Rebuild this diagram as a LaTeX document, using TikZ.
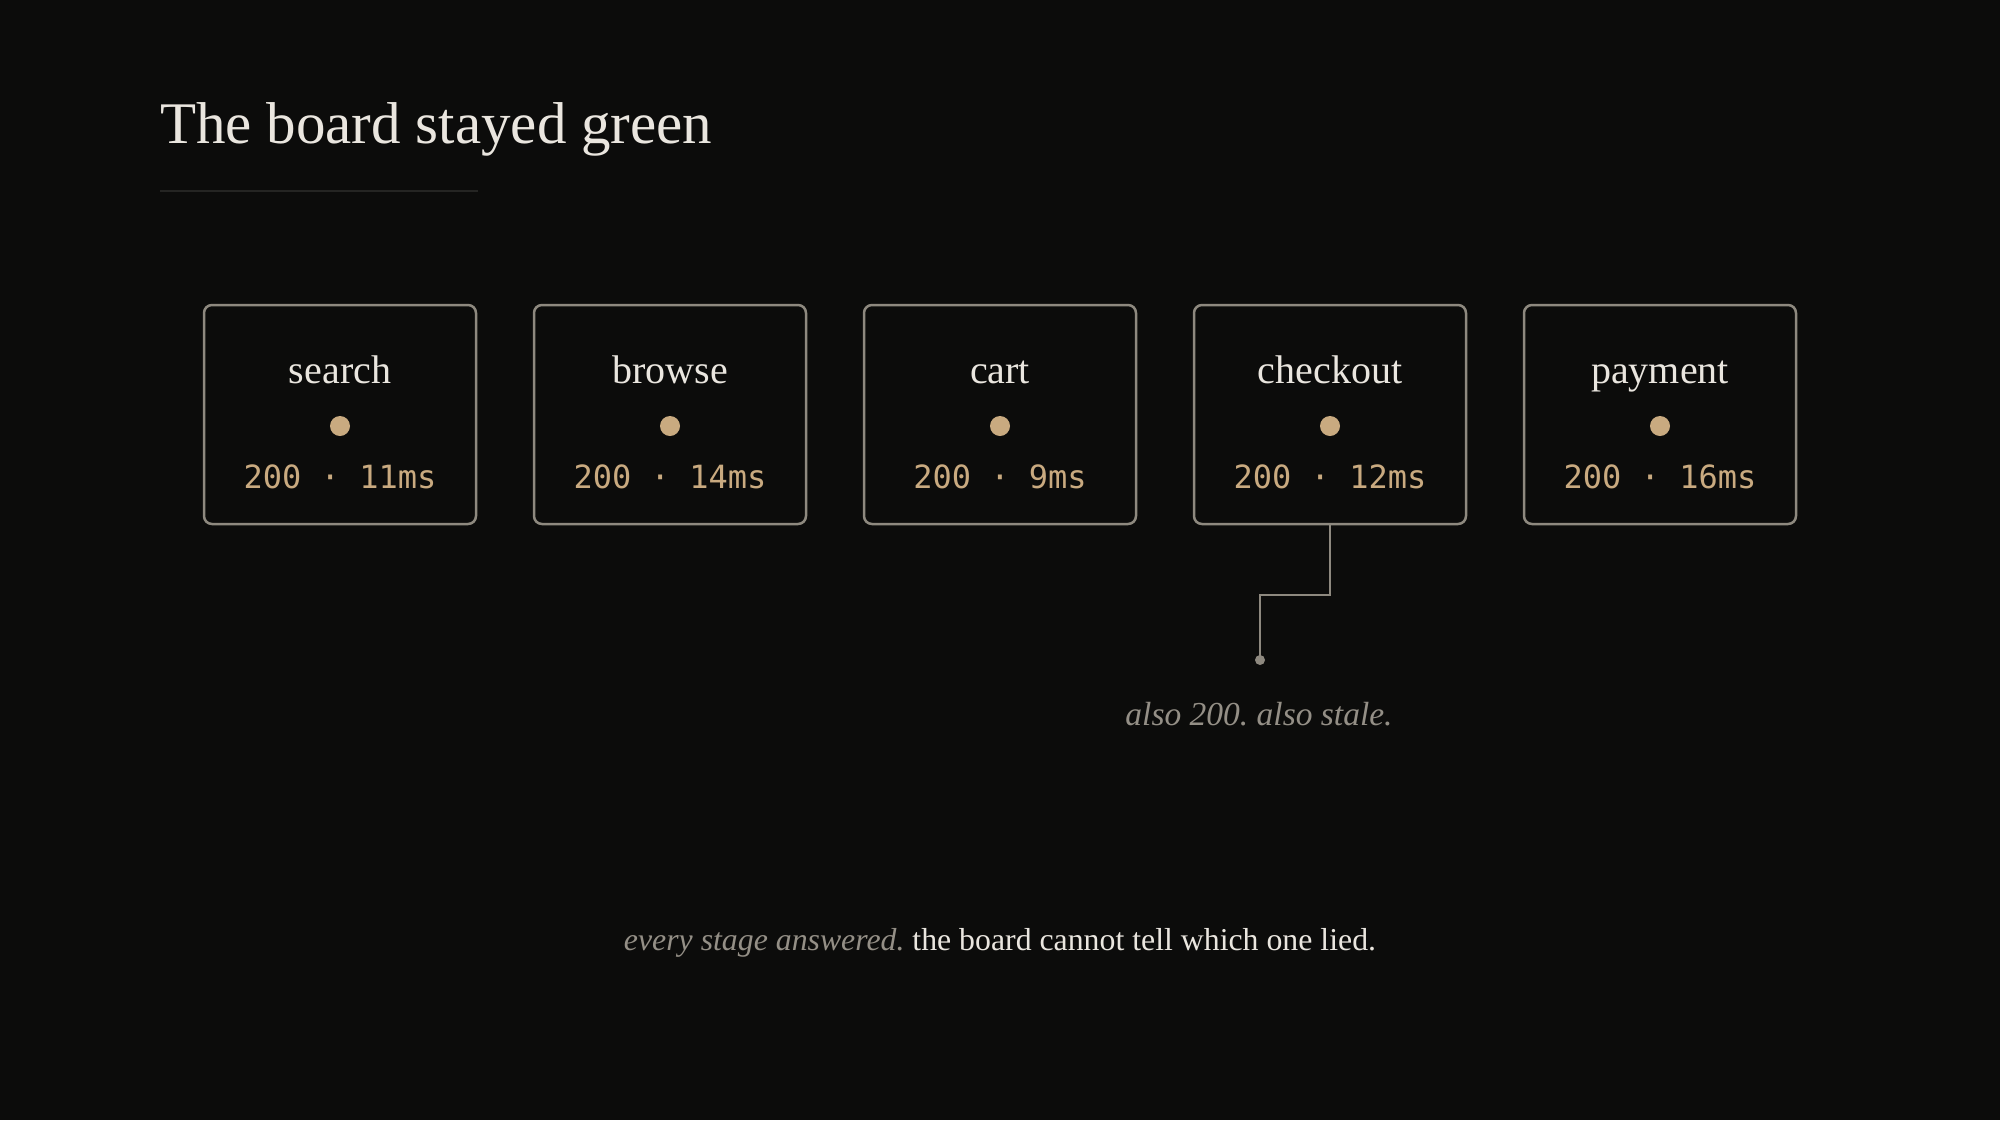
\documentclass[tikz,border=0pt]{standalone}
\usepackage{fontspec}
\setmainfont{Liberation Serif}
\newfontfamily\monof{DejaVu Sans Mono}
\definecolor{bgc}{HTML}{0C0C0B}
\definecolor{titlec}{HTML}{EAE6DF}
\definecolor{borderc}{HTML}{8E897F}
\definecolor{goldc}{HTML}{C9AA80}
\definecolor{grayc}{HTML}{948F86}
\definecolor{rulec}{HTML}{252523}
\frenchspacing
\begin{document}
\begin{tikzpicture}[x=1pt,y=-1pt,
  stagebox/.style={draw=borderc, line width=2.5pt, rounded corners=8pt, fill=bgc,
    minimum width=272pt, minimum height=219pt, inner sep=0pt},
  stagelabel/.style={anchor=base, text=titlec, inner sep=0pt, font=\fontsize{40}{48}\selectfont},
  stagestat/.style={anchor=base, text=goldc, inner sep=0pt, font=\monof\fontsize{32}{38}\selectfont},
  stagedot/.style={circle, fill=goldc, minimum size=20pt, inner sep=0pt},
  connector/.style={draw=borderc, line width=2pt},
]
\useasboundingbox (0,0) rectangle (2000,1120);
\fill[bgc] (0,0) rectangle (2000,1120);

\node[anchor=base west, text=titlec, inner sep=0pt, font=\fontsize{59}{70}\selectfont] (title) at (160,143) {The board stayed green};
\coordinate (ruleA) at (160,191);
\coordinate (ruleB) at (478,191);
\draw[rulec, line width=1.5pt] (ruleA) -- (ruleB);

\foreach \i/\name/\stat in {0/search/200 · 11ms, 1/browse/200 · 14ms, 2/cart/200 · 9ms, 3/checkout/200 · 12ms, 4/payment/200 · 16ms} {
  \pgfmathsetmacro{\cx}{340+330*\i}
  \node[stagebox] (box\i) at (\cx,414.5) {};
  \node[stagelabel] (lab\i) at (\cx,383) {\name};
  \node[stagedot] (dot\i) at (\cx,426) {};
  \node[stagestat] (stat\i) at (\cx,488) {\stat};
}

\coordinate (elbowA) at (1330,595);
\coordinate (elbowB) at (1260,595);
\coordinate (pin) at (1260,660);
\draw[connector] (box3.south) -- (elbowA) -- (elbowB) -- (pin);
\fill[borderc] (pin) circle (5pt);

\node[anchor=base, text=grayc, inner sep=0pt, font=\itshape\fontsize{33.5}{40}\selectfont] (note) at (1259,725) {also 200. also stale.};

\node[anchor=base, inner sep=0pt, font=\fontsize{31.8}{38}\selectfont] (footer) at (1000,950) {\textcolor{grayc}{\itshape every stage answered.} \textcolor{titlec}{the board cannot tell which one lied.}};
\end{tikzpicture}
\end{document}
